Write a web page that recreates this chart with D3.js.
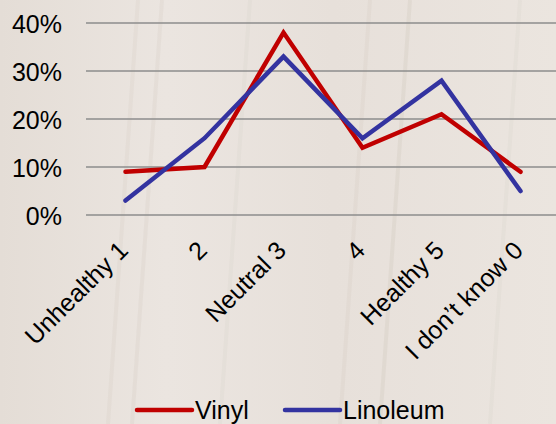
<!DOCTYPE html>
<html><head><meta charset="utf-8">
<script src="https://cdn.jsdelivr.net/npm/d3@7"></script>
<style>html,body{margin:0;padding:0;background:#e8e1db;}svg{display:block;}</style>
</head><body>
<script>
const categories = ["Unhealthy 1", "2", "Neutral 3", "4", "Healthy 5", "I don\u2019t know 0"];
const vinyl = [0.09, 0.10, 0.38, 0.14, 0.21, 0.09];
const linoleum = [0.03, 0.16, 0.33, 0.16, 0.28, 0.05];
const yTicks = [0, 0.1, 0.2, 0.3, 0.4];
const seriesNames = ["Vinyl", "Linoleum"];
const seriesColors = ["#c00000", "#3333a0"];

const W = 556, H = 424;
const FONT = "Liberation Sans, Arial, sans-serif";
const svg = d3.select("body").append("svg").attr("width", W).attr("height", H);

// background (wood-like)
const defs = svg.append("defs");
const g = defs.append("linearGradient").attr("id", "bg").attr("x1", 0).attr("x2", 1).attr("y1", 0).attr("y2", 0);
[["0%", "#e4ddd6"], ["30%", "#ebe5e0"], ["60%", "#e7e0da"], ["100%", "#ebe5df"]].forEach(s => g.append("stop").attr("offset", s[0]).attr("stop-color", s[1]));
svg.append("rect").attr("width", W).attr("height", H).attr("fill", "url(#bg)");
[[162, 0.06], [138, 0.05], [410, 0.08], [370, 0.05], [250, 0.04], [520, 0.04]].forEach(([x, o]) =>
  svg.append("line").attr("x1", x).attr("x2", x - 30).attr("y1", 0).attr("y2", H)
    .attr("stroke", "#8a7a6a").attr("stroke-opacity", o).attr("stroke-width", 4));

const x = d3.scaleBand().domain(categories).range([86, 560]);
const y = d3.scaleLinear().domain([0, 0.4]).range([215, 23]);

// gridlines
svg.append("g").selectAll("line").data(yTicks).join("line")
  .attr("x1", 86).attr("x2", W).attr("y1", d => y(d)).attr("y2", d => y(d))
  .attr("stroke", "#8c8c8c").attr("stroke-width", 1.6);

// y axis labels
const yAxis = d3.axisLeft(y).tickValues(yTicks).tickFormat(d3.format(".0%")).tickSize(0).tickPadding(0);
const ya = svg.append("g").attr("transform", "translate(62,0)").call(yAxis);
ya.select(".domain").remove();
ya.selectAll("text").attr("font-family", FONT).attr("font-size", 25).attr("fill", "#000").attr("dy", "0.36em");

// x axis labels
const xAxis = d3.axisBottom(x).tickSize(0).tickPadding(0);
const xa = svg.append("g").attr("transform", "translate(0,226)").call(xAxis);
xa.select(".domain").remove();
xa.selectAll("text").attr("font-family", FONT).attr("font-size", 25).attr("fill", "#000")
  .attr("text-anchor", "end").attr("x", 0).attr("y", 0).attr("dy", 0)
  .attr("transform", "translate(4,26) rotate(-45)");

// lines
const line = d3.line().x((d, i) => x(categories[i]) + x.bandwidth() / 2).y(d => y(d));
[vinyl, linoleum].forEach((s, k) => {
  svg.append("path").datum(s).attr("d", line).attr("fill", "none")
    .attr("stroke", seriesColors[k]).attr("stroke-width", 4.5).attr("stroke-linejoin", "miter").attr("stroke-linecap", "round");
});

// legend
const legX = [137, 285];
seriesNames.forEach((n, k) => {
  const lg = svg.append("g").attr("transform", `translate(${legX[k]},410)`);
  lg.append("line").attr("x1", 0).attr("x2", 55).attr("stroke", seriesColors[k]).attr("stroke-width", 4.5).attr("stroke-linecap", "round");
  lg.append("text").attr("x", 58).attr("y", 0).attr("dy", "0.36em").text(n)
    .attr("font-family", FONT).attr("font-size", 25).attr("fill", "#000");
});
</script>
</body></html>
